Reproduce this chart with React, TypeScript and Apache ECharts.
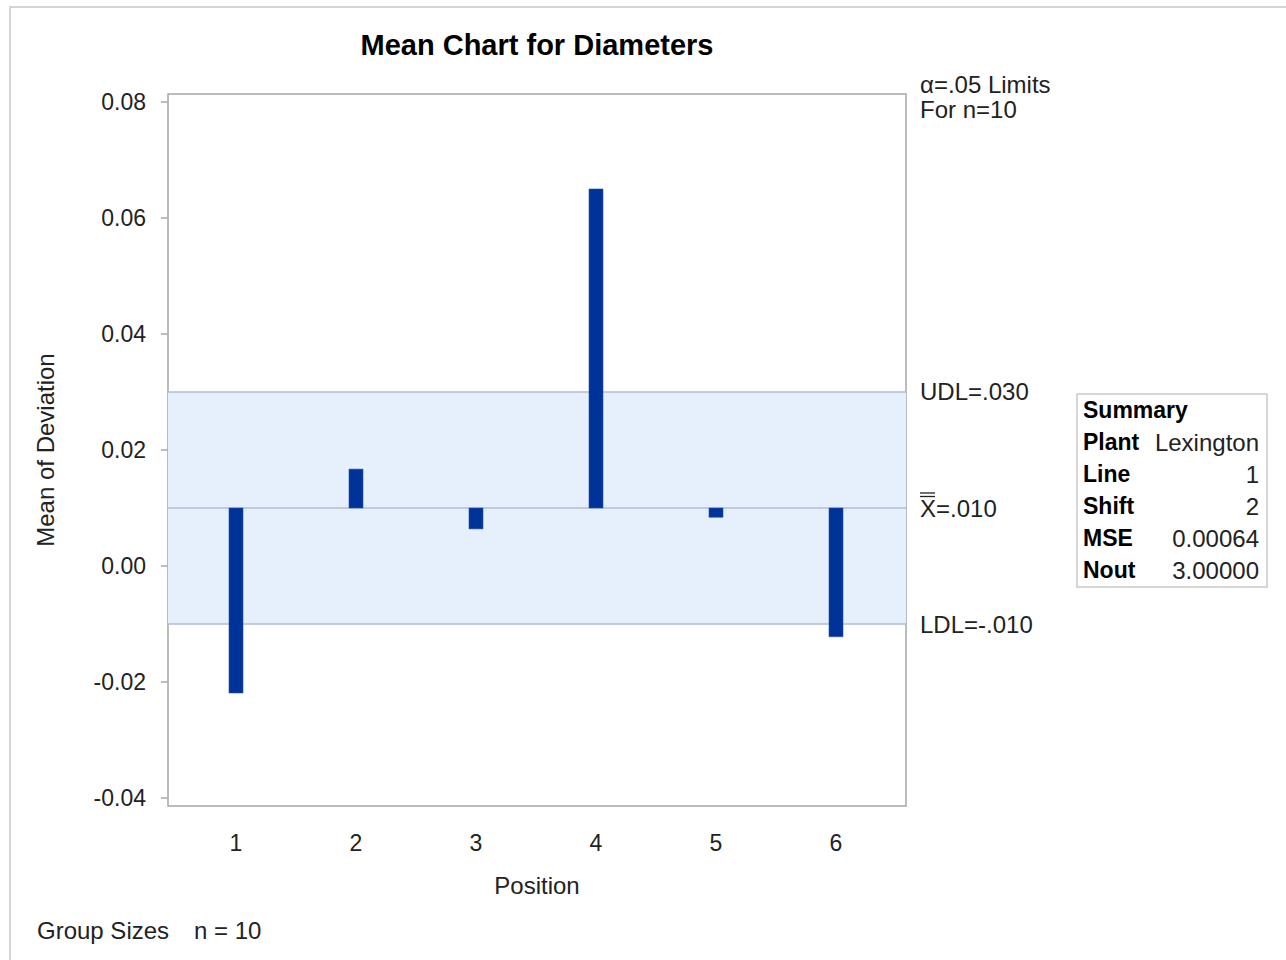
import React, { useEffect, useRef } from "react";
import * as echarts from "echarts";

const positions = [1, 2, 3, 4, 5, 6];
const means = [-0.0219, 0.0167, 0.0064, 0.065, 0.0084, -0.0122];
const yTicks = [-0.04, -0.02, 0, 0.02, 0.04, 0.06, 0.08];
const centerLine = 0.01;
const udl = 0.03;
const ldl = -0.01;
const summaryRows = [
  ["Plant", "Lexington"],
  ["Line", "1"],
  ["Shift", "2"],
  ["MSE", "0.00064"],
  ["Nout", "3.00000"],
];

const FONT = "'Liberation Sans', Arial, sans-serif";

export default function App() {
  const ref = useRef<HTMLDivElement>(null);
  useEffect(() => {
    if (!ref.current) return;
    const chart = echarts.init(ref.current, undefined, { renderer: "svg" });
    const data = positions.map((p, i) => [p, means[i]]);
    const gLeft = 168, gTop = 94, gW = 738, gH = 712;
    const summaryGraphics: any[] = [
      {
        type: "rect",
        shape: { x: 1077, y: 394, width: 190, height: 193 },
        style: { fill: "#fff", stroke: "#c8c8c8", lineWidth: 1.5 },
      },
      {
        type: "text",
        x: 1083,
        y: 410,
        style: { text: "Summary", font: `bold 23px ${FONT}`, fill: "#000", verticalAlign: "middle" },
      },
    ];
    summaryRows.forEach((r, i) => {
      const y = 442 + i * 32;
      summaryGraphics.push({
        type: "text",
        x: 1083,
        y,
        style: { text: r[0], font: `bold 23px ${FONT}`, fill: "#000", verticalAlign: "middle" },
      });
      summaryGraphics.push({
        type: "text",
        x: 1259,
        y,
        style: { text: r[1], font: `24px ${FONT}`, fill: "#222", align: "right", verticalAlign: "middle" },
      });
    });
    chart.setOption({
      animation: false,
      textStyle: { fontFamily: FONT },
      grid: {
        left: gLeft,
        top: gTop,
        width: gW,
        height: gH,
        show: true,
        borderColor: "#a4a8ac",
        borderWidth: 1.5,
        backgroundColor: "transparent",
      },
      xAxis: {
        type: "value",
        min: 0.4333,
        max: 6.5833,
        axisLine: { show: false },
        splitLine: { show: false },
        axisTick: { show: true, customValues: positions, length: 8, lineStyle: { color: "#a4a8ac", width: 1.5 } },
        axisLabel: {
          customValues: positions,
          margin: 25,
          fontSize: 23,
          color: "#222",
          fontFamily: FONT,
          formatter: (v: number) => String(v),
        },
      },
      yAxis: {
        type: "value",
        min: -0.041379,
        max: 0.081379,
        axisLine: { show: false },
        splitLine: { show: false },
        axisTick: { show: true, customValues: yTicks, length: 7, lineStyle: { color: "#a4a8ac", width: 1.5 } },
        axisLabel: {
          customValues: yTicks,
          margin: 22,
          fontSize: 23,
          color: "#222",
          fontFamily: FONT,
          formatter: (v: number) => v.toFixed(2),
        },
      },
      series: [
        {
          type: "line",
          data,
          symbol: "none",
          lineStyle: { width: 0, opacity: 0 },
          silent: true,
          z: 1,
          markArea: {
            silent: true,
            z: 1,
            itemStyle: { color: "#e6f0fd" },
            data: [[{ yAxis: ldl }, { yAxis: udl }]],
          },
          markLine: {
            silent: true,
            z: 2,
            symbol: "none",
            lineStyle: { color: "#b0bcd2", width: 1.5, type: "solid" },
            label: {
              position: "end",
              distance: 14,
              fontSize: 24,
              color: "#222",
              fontFamily: FONT,
            },
            data: [
              { yAxis: udl, label: { formatter: "UDL=.030" } },
              { yAxis: centerLine, label: { formatter: "X=.010" } },
              { yAxis: ldl, label: { formatter: "LDL=-.010" } },
            ],
          },
        },
        {
          type: "custom",
          z: 10,
          data,
          renderItem: (params: any, api: any) => {
            const x = api.value(0);
            const v = api.value(1);
            const p0 = api.coord([x, centerLine]);
            const p1 = api.coord([x, v]);
            return {
              type: "rect",
              shape: {
                x: p0[0] - 7,
                y: Math.min(p0[1], p1[1]),
                width: 14,
                height: Math.abs(p1[1] - p0[1]),
              },
              style: { fill: "#003399", stroke: "#2b50a8", lineWidth: 0.6 },
            };
          },
        },
      ],
      graphic: [
        {
          type: "rect",
          silent: true,
          shape: { x: 10, y: 7, width: 1400, height: 1100 },
          style: { fill: "none", stroke: "#d4d4d4", lineWidth: 2 },
        },
        {
          type: "text",
          x: 537,
          y: 45,
          style: {
            text: "Mean Chart for Diameters",
            font: `bold 29px ${FONT}`,
            fill: "#000",
            align: "center",
            verticalAlign: "middle",
          },
        },
        {
          type: "text",
          x: 45,
          y: 450,
          rotation: Math.PI / 2,
          style: {
            text: "Mean of Deviation",
            font: `24px ${FONT}`,
            fill: "#222",
            align: "center",
            verticalAlign: "middle",
          },
        },
        {
          type: "text",
          x: 537,
          y: 885,
          style: {
            text: "Position",
            font: `24px ${FONT}`,
            fill: "#222",
            align: "center",
            verticalAlign: "middle",
          },
        },
        {
          type: "text",
          x: 920,
          y: 84,
          style: { text: "α=.05 Limits", font: `24px ${FONT}`, fill: "#222", verticalAlign: "middle" },
        },
        {
          type: "text",
          x: 920,
          y: 109,
          style: { text: "For n=10", font: `24px ${FONT}`, fill: "#222", verticalAlign: "middle" },
        },
        {
          type: "line",
          shape: { x1: 920, y1: 493, x2: 935, y2: 493 },
          style: { stroke: "#222", lineWidth: 1.3 },
        },
        {
          type: "line",
          shape: { x1: 920, y1: 496.5, x2: 935, y2: 496.5 },
          style: { stroke: "#222", lineWidth: 1.3 },
        },
        {
          type: "text",
          x: 37,
          y: 930,
          style: { text: "Group Sizes", font: `24px ${FONT}`, fill: "#222", verticalAlign: "middle" },
        },
        {
          type: "text",
          x: 194,
          y: 930,
          style: { text: "n = 10", font: `24px ${FONT}`, fill: "#222", verticalAlign: "middle" },
        },
        ...summaryGraphics,
      ],
    });
    return () => chart.dispose();
  }, []);
  return (
    <div
      ref={ref}
      style={{ position: "absolute", left: 0, top: 0, width: 1286, height: 960, background: "#fff" }}
    />
  );
}
